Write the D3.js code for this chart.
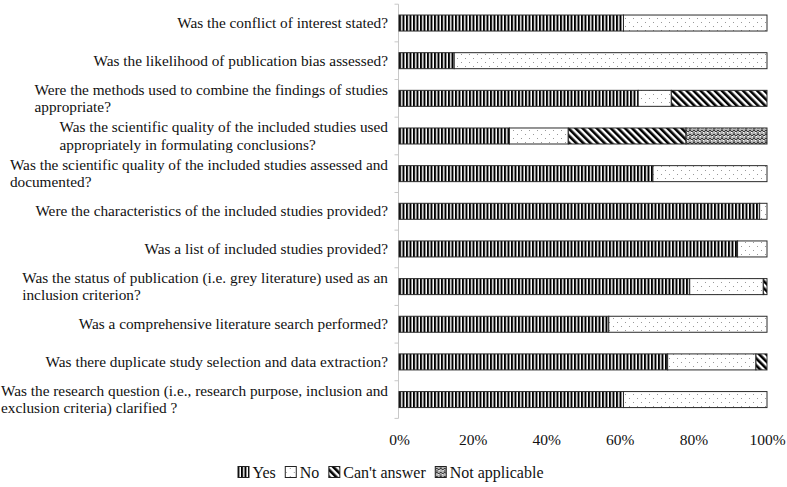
<!DOCTYPE html>
<html><head><meta charset="utf-8">
<script src="https://cdn.jsdelivr.net/npm/d3@7"></script>
<style>
body{margin:0;background:#fff;}
svg text{font-family:"Liberation Serif","Times New Roman",serif;font-size:15.3px;fill:#111;}
</style></head>
<body><svg id="c" width="787" height="487"></svg>
<script>
const categories = [
  "Was the conflict of interest stated?",
  "Was the likelihood of publication bias assessed?",
  "Were the methods used to combine the findings of studies\nappropriate?",
  "Was the scientific quality of the included studies used\nappropriately in formulating conclusions?",
  "Was the scientific quality of the included studies assessed and\ndocumented?",
  "Were the characteristics of the included studies provided?",
  "Was a list of included studies provided?",
  "Was the status of publication (i.e. grey literature) used as an\ninclusion criterion?",
  "Was a comprehensive literature search performed?",
  "Was there duplicate study selection and data extraction?",
  "Was the research question (i.e., research purpose, inclusion and\nexclusion criteria) clarified ?"
];
const seriesNames = ["Yes", "No", "Can't answer", "Not applicable"];
const yesValues = [61, 15, 65, 30, 69, 98, 92, 79, 57, 73, 61];
const noValues  = [39, 85, 9, 16, 31, 2, 8, 20, 43, 24, 39];
const cantValues = [0, 0, 26, 32, 0, 0, 0, 1, 0, 3, 0];
const naValues  = [0, 0, 0, 22, 0, 0, 0, 0, 0, 0, 0];
const xTicks = [0, 20, 40, 60, 80, 100];

const svg = d3.select("#c");
const defs = svg.append("defs");

// Yes: vertical stripes
const pYes = defs.append("pattern").attr("id","pYes").attr("patternUnits","userSpaceOnUse")
  .attr("width",3.5).attr("height",10);
pYes.append("rect").attr("width",3.5).attr("height",10).attr("fill","#fff");
pYes.append("rect").attr("width",2).attr("height",10).attr("fill","#000");
// No: white with faint dots
const pNo = defs.append("pattern").attr("id","pNo").attr("patternUnits","userSpaceOnUse")
  .attr("width",8).attr("height",8);
pNo.append("rect").attr("width",8).attr("height",8).attr("fill","#fff");
pNo.append("rect").attr("x",1).attr("y",2).attr("width",1).attr("height",1).attr("fill","#999");
pNo.append("rect").attr("x",5).attr("y",6).attr("width",1).attr("height",1).attr("fill","#999");
// Can't answer: backslash diagonal stripes
const pCant = defs.append("pattern").attr("id","pCant").attr("patternUnits","userSpaceOnUse")
  .attr("width",5).attr("height",10).attr("patternTransform","rotate(-45)");
pCant.append("rect").attr("width",5).attr("height",10).attr("fill","#fff");
pCant.append("rect").attr("width",2.6).attr("height",10).attr("fill","#000");
// Not applicable: gray weave
const pNa = defs.append("pattern").attr("id","pNa").attr("patternUnits","userSpaceOnUse")
  .attr("width",8).attr("height",8);
pNa.append("rect").attr("width",8).attr("height",8).attr("fill","#b4b4b4");
pNa.append("path").attr("d","M0,4 L2,2 L4,4 L6,2 L8,4 M0,8 L2,6 L4,8 L6,6 L8,8 M2,2 L2,0 M6,6 L6,4")
  .attr("stroke","#3a3a3a").attr("stroke-width",1).attr("fill","none");
pNa.append("path").attr("d","M0,1 L1,0 M4,1 L5,0 M3,5 L4,4 M7,5 L8,4")
  .attr("stroke","#fff").attr("stroke-width",1).attr("fill","none");

const fills = ["url(#pYes)","url(#pNo)","url(#pCant)","url(#pNa)"];

const x = d3.scaleLinear().domain([0,100]).range([399,767]);
const y = d3.scaleBand().domain(categories).range([4.2,418.4]).paddingInner(0.575).paddingOuter(0.2875);

const stackData = categories.map((c,i)=>({cat:c, Yes:yesValues[i], No:noValues[i], "Can't answer":cantValues[i], "Not applicable":naValues[i]}));
const stack = d3.stack().keys(seriesNames)(stackData);

// y axis line with ticks at band boundaries
const axisG = svg.append("g");
axisG.append("line").attr("x1",398.5).attr("x2",398.5).attr("y1",y.range()[0]).attr("y2",y.range()[1])
  .attr("stroke","#c8c8c8").attr("stroke-width",1);
const bounds = categories.map(c=>y(c)-y.step()*y.paddingInner()/2).concat([y.range()[1]]);
axisG.selectAll("line.t").data(bounds).enter().append("line").attr("class","t")
  .attr("x1",394.5).attr("x2",398.5).attr("y1",d=>d).attr("y2",d=>d)
  .attr("stroke","#c8c8c8").attr("stroke-width",1);

// bars
stack.forEach((layer,k)=>{
  svg.append("g").selectAll("rect").data(layer.filter(d=>d[1]-d[0]>0)).enter().append("rect")
    .attr("x",d=>x(d[0])).attr("width",d=>x(d[1])-x(d[0]))
    .attr("y",d=>y(d.data.cat)).attr("height",y.bandwidth())
    .attr("fill",fills[k]).attr("stroke","#2a2a2a").attr("stroke-width",1);
});

// category labels
const labelRight = 388;
const lineH = 17.5;
categories.forEach(c=>{
  const lines = c.split("\n");
  const g = svg.append("g");
  const cy = y(c)+y.bandwidth()/2;
  const t = g.append("text").attr("text-anchor","start");
  lines.forEach((ln,j)=>{
    t.append("tspan").attr("x",0).attr("y",cy + (j-(lines.length-1)/2)*lineH + 5).text(ln);
  });
  let maxW = 0;
  t.selectAll("tspan").each(function(){ maxW = Math.max(maxW,this.getComputedTextLength()); });
  if(lines.length===1){
    t.attr("text-anchor","end").selectAll("tspan").attr("x",labelRight);
  } else {
    t.selectAll("tspan").attr("x",labelRight-maxW);
  }
});

// x axis tick labels
const xAxis = d3.axisBottom(x).tickValues(xTicks).tickFormat(d=>d+"%").tickSize(0).tickPadding(0);
const xg = svg.append("g").attr("transform","translate(0,430)").call(xAxis);
xg.select(".domain").remove();
xg.selectAll("text").attr("font-size",null).attr("font-family",null).attr("dy","0.95em")
  .style("fill","#111").style("font-size","15.5px");

// legend
const leg = svg.append("g");
let lx = 0;
seriesNames.forEach((n,k)=>{
  const g = leg.append("g").attr("transform",`translate(${lx},0)`);
  g.append("rect").attr("x",0.5).attr("y",-11.5).attr("width",11).attr("height",11)
    .attr("fill",fills[k]).attr("stroke","#222").attr("stroke-width",1);
  const t = g.append("text").attr("x",15).attr("y",0).style("font-size","16px").text(n);
  lx += 15 + t.node().getComputedTextLength() + 9;
});
const legW = lx - 9;
leg.attr("transform",`translate(${390.5-legW/2},478)`);
</script></body></html>
